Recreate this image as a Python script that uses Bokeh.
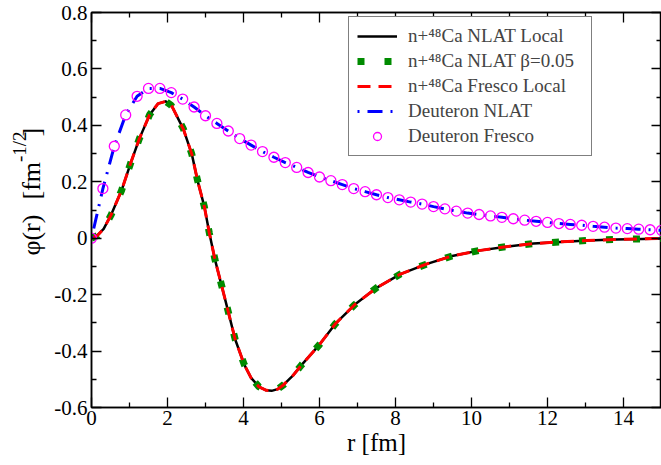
import math
from bokeh.plotting import figure
from bokeh.layouts import row
from bokeh.models import (Range1d, LinearAxis, FixedTicker, Legend, LegendItem)
from bokeh.core.properties import value
from bokeh.embed import file_html
from bokeh.resources import INLINE

# ---- data ----
# n + 48Ca bound state (r in fm, phi in fm^-1/2)
ca_r = [0.0, 0.15, 0.32, 0.52, 0.79, 1.02, 1.26, 1.53, 1.75, 1.95, 2.1, 2.25,
        2.42, 2.64, 2.79, 2.97, 3.10, 3.25, 3.43, 3.60, 3.78, 4.02, 4.20, 4.41,
        4.60, 4.74, 4.90, 5.05, 5.30, 5.53, 6.00, 6.42, 6.93, 7.51, 8.13, 8.81,
        9.49, 10.19, 10.91, 11.63, 12.34, 13.05, 13.77, 14.50, 15.0]
ca_nlat_local = [0.0, 0.009, 0.033, 0.084, 0.169, 0.262, 0.353, 0.438, 0.477,
                 0.485, 0.472, 0.432, 0.386, 0.298, 0.205, 0.112, 0.019, -0.076,
                 -0.171, -0.261, -0.358, -0.448, -0.495, -0.527, -0.539, -0.541,
                 -0.535, -0.520, -0.487, -0.449, -0.377, -0.303, -0.235, -0.175,
                 -0.127, -0.092, -0.063, -0.044, -0.030, -0.019, -0.013, -0.008,
                 -0.0046, -0.0024, -0.0012]
ca_nlat_beta = [0.0, 0.009, 0.033, 0.084, 0.169, 0.262, 0.353, 0.438, 0.477,
                0.485, 0.471, 0.432, 0.387, 0.298, 0.205, 0.112, 0.019, -0.076,
                -0.171, -0.261, -0.358, -0.448, -0.495, -0.527, -0.539, -0.541,
                -0.535, -0.520, -0.487, -0.449, -0.377, -0.303, -0.235, -0.175,
                -0.127, -0.092, -0.063, -0.044, -0.030, -0.019, -0.013, -0.008,
                -0.0046, -0.0024, -0.0012]
ca_fresco_local = [0.0, 0.009, 0.033, 0.084, 0.169, 0.262, 0.353, 0.438, 0.477,
                   0.485, 0.472, 0.432, 0.386, 0.298, 0.205, 0.112, 0.019, -0.076,
                   -0.171, -0.261, -0.358, -0.448, -0.495, -0.527, -0.539, -0.541,
                   -0.535, -0.520, -0.487, -0.449, -0.377, -0.303, -0.235, -0.175,
                   -0.127, -0.092, -0.063, -0.044, -0.030, -0.019, -0.013, -0.008,
                   -0.0046, -0.0024, -0.0012]

# deuteron
d_r = [0.0, 0.3, 0.6, 0.9, 1.2, 1.5, 1.8, 2.1, 2.4, 2.7, 3.0, 3.3, 3.6, 3.9,
       4.2, 4.5, 4.8, 5.1, 5.4, 5.7, 6.0, 6.3, 6.6, 6.9, 7.2, 7.5, 7.8, 8.1,
       8.4, 8.7, 9.0, 9.3, 9.6, 9.9, 10.2, 10.5, 10.8, 11.1, 11.4, 11.7, 12.0,
       12.3, 12.6, 12.9, 13.2, 13.5, 13.8, 14.1, 14.4, 14.7, 15.0]
d_nlat = [0.0, 0.176, 0.326, 0.437, 0.503, 0.531, 0.531, 0.516, 0.493, 0.465,
          0.434, 0.407, 0.380, 0.353, 0.330, 0.307, 0.287, 0.268, 0.251, 0.233,
          0.217, 0.204, 0.190, 0.176, 0.165, 0.154, 0.144, 0.136, 0.128, 0.121,
          0.112, 0.104, 0.096, 0.089, 0.084, 0.079, 0.074, 0.069, 0.064, 0.060,
          0.056, 0.052, 0.049, 0.046, 0.042, 0.039, 0.036, 0.034, 0.032, 0.030,
          0.028]
d_fresco = [0.0, 0.176, 0.326, 0.437, 0.503, 0.531, 0.531, 0.516, 0.493, 0.465,
            0.434, 0.407, 0.380, 0.353, 0.330, 0.307, 0.287, 0.268, 0.251, 0.233,
            0.217, 0.204, 0.190, 0.176, 0.165, 0.154, 0.144, 0.136, 0.128, 0.121,
            0.112, 0.104, 0.096, 0.089, 0.084, 0.079, 0.074, 0.069, 0.064, 0.060,
            0.056, 0.052, 0.049, 0.046, 0.042, 0.039, 0.036, 0.034, 0.032, 0.030,
            0.028]

series_labels = ["n+\u2074\u2078Ca NLAT Local", "n+\u2074\u2078Ca NLAT \u03b2=0.05",
                 "n+\u2074\u2078Ca Fresco Local", "Deuteron NLAT", "Deuteron Fresco"]

x_major = [0, 2, 4, 6, 8, 10, 12, 14]
x_minor = [1, 3, 5, 7, 9, 11, 13, 15]
y_major = [-0.6, -0.4, -0.2, 0.0, 0.2, 0.4, 0.6, 0.8]
y_minor = [-0.5, -0.3, -0.1, 0.1, 0.3, 0.5, 0.7]
y_major_labels = ["-0.6", "-0.4", "-0.2", "0", "0.2", "0.4", "0.6", "0.8"]

FONT = "Liberation Serif"
STRIP_W = 50

# ---------- main plot ----------
p = figure(width=661 - STRIP_W, height=465, x_range=Range1d(0, 15),
           y_range=Range1d(-0.6, 0.8),
           output_backend="svg", toolbar_location=None,
           min_border_left=91 - STRIP_W, min_border_right=0, min_border_top=12,
           min_border_bottom=58)
p.xgrid.visible = False
p.ygrid.visible = False
p.outline_line_color = "black"
p.outline_line_width = 1.5
p.background_fill_color = "white"
p.border_fill_color = "white"

xt = FixedTicker(ticks=x_major, minor_ticks=x_minor)
yt = FixedTicker(ticks=y_major, minor_ticks=y_minor)


def style_axis(ax, labels=True):
    ax.axis_line_color = "black"
    ax.axis_line_width = 1.5
    ax.major_tick_in = 10
    ax.major_tick_out = 0
    ax.minor_tick_in = 5
    ax.minor_tick_out = 0
    ax.major_tick_line_color = "black"
    ax.minor_tick_line_color = "black"
    ax.major_tick_line_width = 1.3
    ax.minor_tick_line_width = 1.3
    if labels:
        ax.major_label_text_font = FONT
        ax.major_label_text_font_size = "21px"
        ax.major_label_text_font_style = "normal"
        ax.major_label_text_color = "black"
    else:
        ax.major_label_text_font_size = "0px"
        ax.major_label_standoff = 0


p.xaxis.ticker = xt
p.yaxis.ticker = yt
style_axis(p.xaxis[0])
style_axis(p.yaxis[0])
p.xaxis.major_label_standoff = 3
p.yaxis.major_label_standoff = 4
p.yaxis.major_label_overrides = {t: s for t, s in zip(y_major, y_major_labels)}
p.xaxis.axis_label = "r [fm]"
p.xaxis.axis_label_text_font = FONT
p.xaxis.axis_label_text_font_size = "25px"
p.xaxis.axis_label_text_font_style = "normal"
p.xaxis.axis_label_text_color = "black"
p.xaxis.axis_label_standoff = 1

top = LinearAxis(ticker=xt)
style_axis(top, labels=False)
p.add_layout(top, "above")
right = LinearAxis(ticker=yt)
style_axis(right, labels=False)
p.add_layout(right, "right")

r_black = p.line(ca_r, ca_nlat_local, line_color="black", line_width=2.5, line_join="round")
r_green = p.line(ca_r, ca_nlat_beta, line_color="#008b00", line_width=7,
                 line_dash="7 20", line_cap="butt")
r_red = p.line(ca_r, ca_fresco_local, line_color="#ff0000", line_width=3,
               line_dash="13 8")
r_blue = p.line(d_r, d_nlat, line_color="#0000ff", line_width=3,
                line_dash="2 8 15 8")
r_circ = p.scatter(d_r, d_fresco, marker="circle", size=10, fill_color=None,
                   line_color="#ff00ff", line_width=1.3)

legend = Legend(items=[LegendItem(label=series_labels[0], renderers=[r_black]),
                       LegendItem(label=series_labels[1], renderers=[r_green]),
                       LegendItem(label=series_labels[2], renderers=[r_red]),
                       LegendItem(label=series_labels[3], renderers=[r_blue]),
                       LegendItem(label=series_labels[4], renderers=[r_circ])],
                location=(257, 251), border_line_color="black", border_line_width=1.5,
                background_fill_color="white", background_fill_alpha=1.0,
                label_text_font=FONT, label_text_font_size="19px",
                label_text_font_style="normal",
                glyph_width=40, glyph_height=20, label_height=20, label_width=175,
                label_standoff=11, spacing=3, padding=8, margin=0)
p.add_layout(legend)

# ---------- y-axis title strip (text only, with superscript) ----------
ylab = figure(width=STRIP_W, height=465, x_range=Range1d(0, STRIP_W),
              y_range=Range1d(0, 465),
              output_backend="svg", toolbar_location=None, min_border=0,
              x_axis_type=None, y_axis_type=None, outline_line_color=None)
ylab.grid.visible = False
ylab.background_fill_color = "white"
ylab.border_fill_color = "white"

ang = math.pi / 2
ylab.text(x=[31, 31, 31], y=[465 - 262, 465 - 198, 465 - 141],
          text=["\u03c6(r)", "[fm", "]"],
          angle=ang, text_align="center", text_baseline="middle",
          text_font=value(FONT), text_font_size="26px", text_color="black")
ylab.text(x=[19], y=[465 - 158], text=["-1/2"], angle=ang, text_align="center",
          text_baseline="middle", text_font=value(FONT), text_font_size="19px",
          text_color="black")

layout = row(ylab, p, spacing=0)
open("out.html", "w").write(file_html(layout, INLINE))
